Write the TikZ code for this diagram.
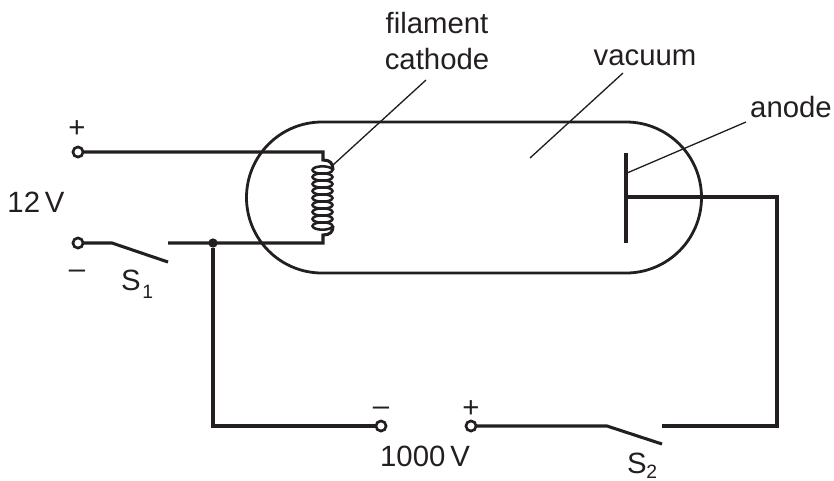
\documentclass[tikz,border=0pt]{standalone}
\usepackage{fontspec}
\setmainfont{Liberation Sans}
\definecolor{ink}{HTML}{231F20}
\tikzset{
  wire/.style={draw=ink,line width=2.3pt,line join=miter},
  thin leader/.style={draw=ink,line width=1pt},
  term/.style={circle,draw=ink,line width=2pt,fill=white,inner sep=0pt,minimum size=7.6pt,outer sep=0pt},
  dotj/.style={circle,fill=ink,inner sep=0pt,minimum size=7pt},
  lab/.style={text=ink,font=\fontsize{22}{26}\selectfont,inner sep=0pt,anchor=base},
  sublab/.style={text=ink,font=\fontsize{14.5}{17}\selectfont,inner sep=0pt,anchor=base west},
}
\begin{document}
\begin{tikzpicture}[x=0.75pt,y=-0.75pt]
\useasboundingbox (0,0) rectangle (834,480);
% tube
\draw[wire,line width=2.1pt] (322,122) -- (626,122) arc[start angle=90,end angle=-90,radius=75.5*0.75pt] -- (322,273) arc[start angle=-90,end angle=-270,radius=75.5*0.75pt] -- cycle;
% terminals and junctions
\node[term] (tp) at (78,152) {};
\node[term] (tm) at (78,243) {};
\node[term] (hm) at (381,426) {};
\node[term] (hp) at (471,426) {};
\coordinate (a1) at (112,243);
\coordinate (a2) at (168,262);
\coordinate (a3) at (168,243);
\coordinate (b1) at (607,426);
\coordinate (b2) at (662,444);
\coordinate (b3) at (662,426);
\coordinate (cu) at (323,152);
\coordinate (cd) at (323,243);
\node[dotj] (j) at (213,243) {};
\coordinate (an) at (626,197);
% wires
\draw[wire] (tp) -- (cu) -- (323,160) .. controls (330,160) and (333,163) .. (333,170);
\draw[wire] (333,226) .. controls (333,232) and (330,235) .. (323,235) -- (cd) -- (a3);
\draw[wire] (tm) -- (a1) -- (a2);
\draw[wire] (j) -- (213,426) -- (hm);
\draw[wire] (hp) -- (b1) -- (b2);
\draw[wire] (b3) -- (777,426) -- (777,197) -- (an);
\draw[wire] (626,153) -- (626,243);
% coil
\foreach \yy in {170,177,184,191,198,205,212,219,226}
  \draw[draw=ink,line width=1.9pt] (322.5,\yy) ellipse[x radius=10*0.75pt,y radius=3.7*0.75pt];
% labels
\node[lab] (l1) at (437,33) {filament};
\node[lab] (l2) at (437,69) {cathode};
\node[lab] (l3) at (645,65) {vacuum};
\node[lab] (l4) at (791,117) {anode};
\node[lab] (v1) at (36,212) {12\,V};
\node[lab] (v2) at (425,466) {1000\,V};
\node[lab] (s1) at (131,290) {S};
\node[sublab] at (142,298) {1};
\node[lab] (s2) at (637,473) {S};
\node[sublab] at (646,478) {2};
\node[lab] at (77,137) {+};
\node[lab] at (471,417) {+};
\node[lab] at (77,278) {–};
\node[lab] at (381,415) {–};
% leaders
\coordinate (e1) at (426,80);
\coordinate (e2) at (623,73);
\coordinate (e3) at (746,122);
\draw[thin leader] (333,165) -- (e1);
\draw[thin leader] (530,158) -- (e2);
\draw[thin leader] (627,173) -- (e3);
\end{tikzpicture}
\end{document}
